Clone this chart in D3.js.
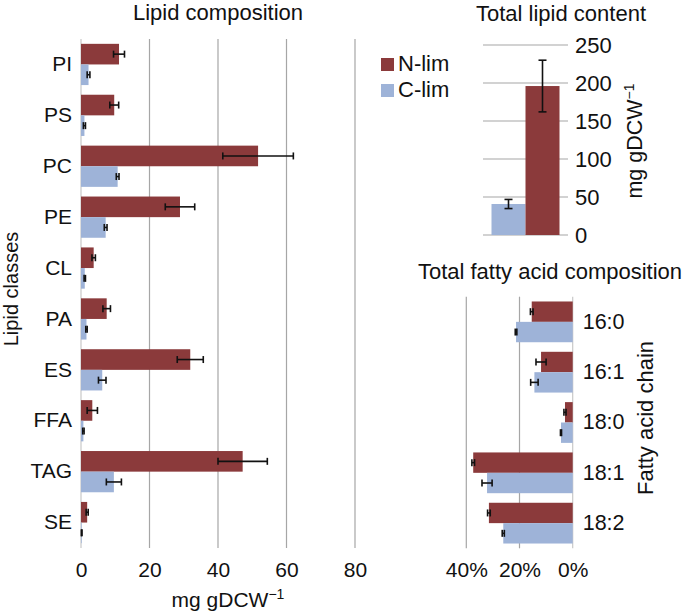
<!DOCTYPE html>
<html><head><meta charset="utf-8">
<script src="https://cdn.jsdelivr.net/npm/d3@7/dist/d3.min.js"></script>
<style>
html,body{margin:0;padding:0;background:#fff;}
text{font-family:"Liberation Sans",Arial,Helvetica,sans-serif;fill:#111;}
</style></head>
<body>
<svg id="chart" width="685" height="613"></svg>
<script>
// ---------- data ----------
const series = ["N-lim", "C-lim"];
const colors = ["#8b3a3b", "#9eb3d8"];

const lipidClasses = ["PI","PS","PC","PE","CL","PA","ES","FFA","TAG","SE"];
const lipidN    = [11.1, 9.7, 51.7, 28.9, 3.7, 7.5, 31.9, 3.3, 47.2, 1.8];
const lipidNErr = [1.6, 1.3, 10.3, 4.3, 0.5, 1.1, 3.8, 1.5, 7.2, 0.3];
const lipidC    = [2.2, 1.0, 10.7, 7.2, 1.1, 1.6, 6.2, 0.7, 9.6, 0.2];
const lipidCErr = [0.4, 0.3, 0.4, 0.4, 0.2, 0.2, 1.1, 0.2, 2.2, 0.1];
const lipidTicks = [0, 20, 40, 60, 80];

const totalCats = ["C-lim", "N-lim"];
const totalVals = [40.8, 196];
const totalErr  = [6, 34];
const totalTicks = [0, 50, 100, 150, 200, 250];

const faChains = ["16:0","16:1","18:0","18:1","18:2"];
const faN    = [15.4, 11.9, 2.9, 37.4, 31.5];
const faNErr = [0.5, 1.9, 0.4, 0.5, 0.5];
const faC    = [21.3, 14.4, 4.4, 32.2, 26.1];
const faCErr = [0.3, 1.4, 0.2, 1.9, 0.4];
const faTicks = [40, 20, 0];

// ---------- drawing ----------
const svg = d3.select("#chart");
const grid = "#a6a6a6";
const FF = "'Liberation Sans',Arial,sans-serif";
const tickFont = 21;
const titleFont = 22;

function errBar(g, xa, xb, y, cap) {
  g.append("line").attr("x1", xa).attr("x2", xb).attr("y1", y).attr("y2", y);
  g.append("line").attr("x1", xa).attr("x2", xa).attr("y1", y-cap/2).attr("y2", y+cap/2);
  g.append("line").attr("x1", xb).attr("x2", xb).attr("y1", y-cap/2).attr("y2", y+cap/2);
}
function unitLabel(sel) {
  sel.append("tspan").text("mg gDCW");
  sel.append("tspan").text("\u22121").attr("font-size", 14).attr("dy", -8);
}
function styleTicks(ag, size) {
  ag.select(".domain").remove();
  ag.selectAll("text").attr("font-size", size).style("font-family", FF).attr("fill", "#111");
}

// ===== Left: Lipid composition =====
{
  const x = d3.scaleLinear().domain([0, 80]).range([81, 355]);
  const y = d3.scaleBand().domain(lipidClasses).range([39, 548]).paddingInner(0.19).paddingOuter(0.095);
  const ys = d3.scaleBand().domain(series).range([0, y.bandwidth()]);
  const g = svg.append("g");
  g.selectAll("line.grid").data(lipidTicks).join("line")
    .attr("x1", d => x(d)).attr("x2", d => x(d)).attr("y1", 39).attr("y2", 548)
    .attr("stroke", d => d === 0 ? "#c8c8c8" : grid).attr("stroke-width", 1.2);
  const rows = lipidClasses.map((c, i) => ({c, v: [lipidN[i], lipidC[i]], e: [lipidNErr[i], lipidCErr[i]]}));
  rows.forEach(r => {
    series.forEach((s, k) => {
      g.append("rect").attr("x", x(0)).attr("y", y(r.c) + ys(s))
        .attr("width", x(r.v[k]) - x(0)).attr("height", ys.bandwidth()).attr("fill", colors[k]);
    });
  });
  const eg = g.append("g").attr("stroke", "#111").attr("stroke-width", 1.6);
  rows.forEach(r => {
    series.forEach((s, k) => {
      const yc = y(r.c) + ys(s) + ys.bandwidth()/2;
      errBar(eg, x(r.v[k] - r.e[k]), x(r.v[k] + r.e[k]), yc, 7);
    });
  });
  const ag = g.append("g").attr("transform", `translate(${x(0)},0)`)
    .call(d3.axisLeft(y).tickSize(0).tickPadding(9));
  styleTicks(ag, 21);
  const bg = g.append("g").attr("transform", `translate(0,548)`)
    .call(d3.axisBottom(x).tickValues(lipidTicks).tickSize(0).tickPadding(14));
  styleTicks(bg, tickFont);
  g.append("text").attr("x", 218).attr("y", 20).attr("text-anchor", "middle").attr("font-size", titleFont).text("Lipid composition");
  g.append("text").attr("x", 228).attr("y", 607).attr("text-anchor", "middle").attr("font-size", 21).call(unitLabel);
  g.append("text").attr("transform", "translate(18,289) rotate(-90)").attr("text-anchor", "middle").attr("font-size", 20).text("Lipid classes");
}

// ===== Top right: Total lipid content =====
{
  const y = d3.scaleLinear().domain([0, 250]).range([235, 45]);
  const x = d3.scaleBand().domain(totalCats).range([483, 568]).paddingInner(0).paddingOuter(0.25);
  const g = svg.append("g");
  g.selectAll("line.grid").data(totalTicks).join("line")
    .attr("x1", 483).attr("x2", 568).attr("y1", d => y(d)).attr("y2", d => y(d))
    .attr("stroke", grid).attr("stroke-width", 1.2);
  totalCats.forEach((c, i) => {
    g.append("rect").attr("x", x(c)).attr("y", y(totalVals[i])).attr("width", x.bandwidth())
      .attr("height", y(0) - y(totalVals[i])).attr("fill", colors[series.indexOf(c)]);
  });
  const eg = g.append("g").attr("stroke", "#111").attr("stroke-width", 1.6);
  totalCats.forEach((c, i) => {
    const xc = x(c) + x.bandwidth()/2;
    const ya = y(totalVals[i] - totalErr[i]), yb = y(totalVals[i] + totalErr[i]);
    eg.append("line").attr("x1", xc).attr("x2", xc).attr("y1", ya).attr("y2", yb);
    eg.append("line").attr("x1", xc-4).attr("x2", xc+4).attr("y1", ya).attr("y2", ya);
    eg.append("line").attr("x1", xc-4).attr("x2", xc+4).attr("y1", yb).attr("y2", yb);
  });
  const ag = g.append("g").attr("transform", `translate(568,0)`)
    .call(d3.axisRight(y).tickValues(totalTicks).tickSize(0).tickPadding(7));
  styleTicks(ag, 22);
  g.append("text").attr("x", 561).attr("y", 21).attr("text-anchor", "middle").attr("font-size", titleFont).text("Total lipid content");
  g.append("text").attr("transform", "translate(642,141) rotate(-90)").attr("text-anchor", "middle").attr("font-size", 21.5).call(unitLabel);
  const lg = g.append("g");
  series.forEach((s, k) => {
    const yy = 58 + k * 26;
    lg.append("rect").attr("x", 381).attr("y", yy).attr("width", 13).attr("height", 13).attr("fill", colors[k]);
    lg.append("text").attr("x", 398).attr("y", yy + 13).attr("font-size", 22).text(s);
  });
}

// ===== Bottom right: Total fatty acid composition =====
{
  const x = d3.scaleLinear().domain([0, 40]).range([572.7, 466.3]);
  const y = d3.scaleBand().domain(faChains).range([296.7, 548.3]).paddingInner(0.19).paddingOuter(0.095);
  const ys = d3.scaleBand().domain(series).range([0, y.bandwidth()]);
  const g = svg.append("g");
  g.selectAll("line.grid").data(faTicks).join("line")
    .attr("x1", d => x(d)).attr("x2", d => x(d)).attr("y1", 296.7).attr("y2", 548.3)
    .attr("stroke", d => d === 0 ? "#c8c8c8" : grid).attr("stroke-width", 1.2);
  const rows = faChains.map((c, i) => ({c, v: [faN[i], faC[i]], e: [faNErr[i], faCErr[i]]}));
  rows.forEach(r => {
    series.forEach((s, k) => {
      g.append("rect").attr("x", x(r.v[k])).attr("y", y(r.c) + ys(s))
        .attr("width", x(0) - x(r.v[k])).attr("height", ys.bandwidth()).attr("fill", colors[k]);
    });
  });
  const eg = g.append("g").attr("stroke", "#111").attr("stroke-width", 1.6);
  rows.forEach(r => {
    series.forEach((s, k) => {
      const yc = y(r.c) + ys(s) + ys.bandwidth()/2;
      errBar(eg, x(r.v[k] - r.e[k]), x(r.v[k] + r.e[k]), yc, 7);
    });
  });
  const ag = g.append("g").attr("transform", `translate(${x(0)},0)`)
    .call(d3.axisRight(y).tickSize(0).tickPadding(10));
  styleTicks(ag, 21.5);
  const bg = g.append("g").attr("transform", `translate(0,548.3)`)
    .call(d3.axisBottom(x).tickValues(faTicks).tickFormat(d => d + "%").tickSize(0).tickPadding(14));
  styleTicks(bg, tickFont);
  g.append("text").attr("x", 550).attr("y", 279).attr("text-anchor", "middle").attr("font-size", titleFont).text("Total fatty acid composition");
  g.append("text").attr("transform", "translate(653,418) rotate(-90)").attr("text-anchor", "middle").attr("font-size", 22).text("Fatty acid chain");
}
</script>
</body></html>
